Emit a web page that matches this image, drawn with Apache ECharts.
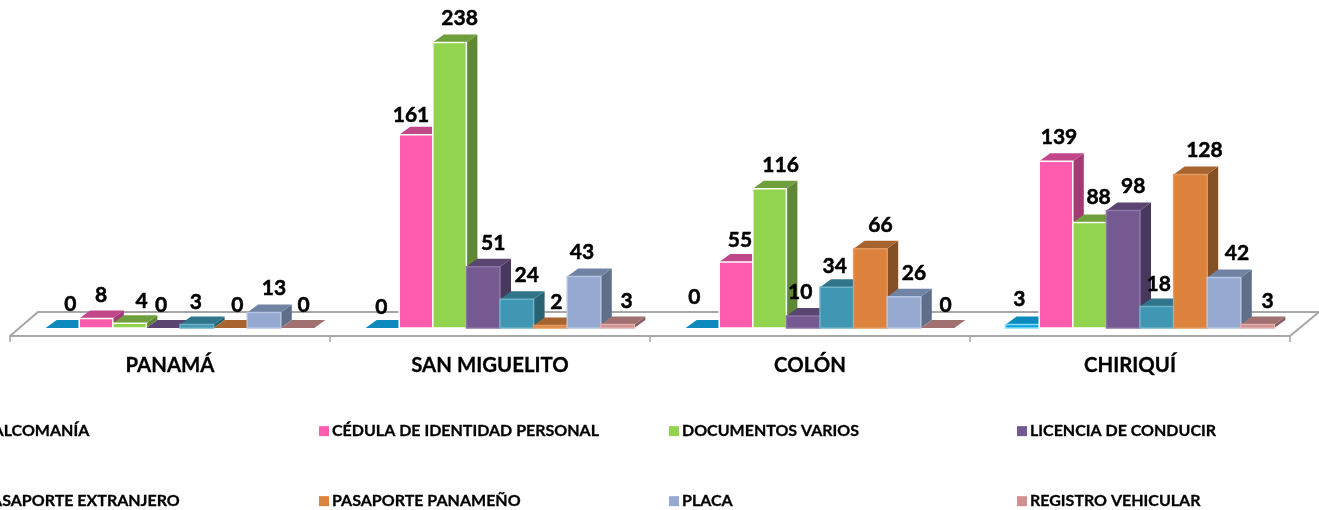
<!DOCTYPE html>
<html>
<head>
<meta charset="utf-8">
<title>Chart</title>
<script src="https://cdn.jsdelivr.net/npm/echarts@6/dist/echarts.min.js"></script>
<style>
    html, body { margin: 0; padding: 0; background: #fff; }
    #main { width: 1319px; height: 510px; }
</style>
</head>
<body>
<div id="main"></div>
<script>
var categories = ['PANAMÁ', 'SAN MIGUELITO', 'COLÓN', 'CHIRIQUÍ'];

var seriesNames = [
    'CALCOMANÍA',
    'CÉDULA DE IDENTIDAD PERSONAL',
    'DOCUMENTOS VARIOS',
    'LICENCIA DE CONDUCIR',
    'PASAPORTE EXTRANJERO',
    'PASAPORTE PANAMEÑO',
    'PLACA',
    'REGISTRO VEHICULAR'
];

var calcomania = [0, 0, 0, 3];
var cedula = [8, 161, 55, 139];
var documentos = [4, 238, 116, 88];
var licencia = [0, 51, 10, 98];
var pasaporteExt = [3, 24, 34, 18];
var pasaportePan = [0, 2, 66, 128];
var placa = [13, 43, 26, 42];
var registro = [0, 3, 0, 3];

var seriesValues = [calcomania, cedula, documentos, licencia, pasaporteExt, pasaportePan, placa, registro];

// colours: front, top, side
var fronts = ['#0F9FD6', '#FF5CAF', '#92D350', '#745A90', '#4097B3', '#DC823C', '#95A9D1', '#D09090'];
var tops = ['#0C8ABC', '#C2468A', '#6F9F3C', '#5A4570', '#30758A', '#A8642E', '#7083A3', '#A07070'];
var sides = ['#0A7AA6', '#A33A75', '#5F8834', '#49385D', '#296373', '#855026', '#5E6F8A', '#8A6060'];
var borders = ['#7FDDFF', '#FFFFFF', '#FFFFFF', '#8A76A6', '#6FB2C8', '#E29A62', '#B5C4E2', '#E0B0B0'];

// hand placed data labels in the original, [dx, dy] from the default spot, by series then category
var labelNudge = [
    [[-2, 0], [-11, 3], [-18, -7], [-13, -1]],
    [[-5, 1], [-15, 4], [-6, 2], [-7, 0]],
    [[2, 2], [0, 0], [1, 0], [-1, -1]],
    [[-12, 1], [0, 0], [-13, 0], [0, 0]],
    [[-11, 2], [0, 0], [-12, 3], [-8, 2]],
    [[-3, 1], [-4, 1], [0, 0], [4, 0]],
    [[0, 0], [-12, 0], [0, 0], [3, 0]],
    [[-4, 1], [-1, 1], [-2, 1], [0, 1]]
];

var DEPTH_X = 11, DEPTH_Y = 8, GROUP_SHIFT = 10, BAR_RATIO = 0.105;
var FONT_FAMILY = 'Lato, "Open Sans", sans-serif';

function renderBar(seriesIndex) {
    return function (params, api) {
        var cat = api.value(0),
            value = api.value(1),
            top = api.coord([cat, value]),
            base = api.coord([cat, 0]),
            band = api.size([1, 0])[0],
            w = band * BAR_RATIO,
            x = top[0] + GROUP_SHIFT + (seriesIndex - 4) * w,
            y = top[1],
            b = base[1],
            nudge = labelNudge[seriesIndex][cat],
            z = seriesIndex + 1;

        return {
            type: 'group',
            children: [
                {
                    type: 'polygon',
                    z2: z,
                    shape: { points: [[x + w, b], [x + w + DEPTH_X, b - DEPTH_Y], [x + w + DEPTH_X, y - DEPTH_Y], [x + w, y]] },
                    style: { fill: sides[seriesIndex] }
                },
                {
                    type: 'polygon',
                    z2: z,
                    shape: { points: [[x, y], [x + DEPTH_X, y - DEPTH_Y], [x + w + DEPTH_X, y - DEPTH_Y], [x + w, y]] },
                    style: { fill: tops[seriesIndex] }
                },
                {
                    type: 'rect',
                    z2: z,
                    shape: { x: x, y: y, width: w, height: b - y },
                    style: { fill: fronts[seriesIndex], stroke: value > 0 ? borders[seriesIndex] : 'none', lineWidth: 1.5 }
                },
                {
                    type: 'text',
                    z2: 100,
                    style: {
                        text: String(value),
                        x: x + w / 2 + 10 + nudge[0],
                        y: y - 24 + nudge[1],
                        align: 'center',
                        verticalAlign: 'middle',
                        font: 'bold 21px ' + FONT_FAMILY,
                        fill: '#000',
                        stroke: '#000',
                        lineWidth: 0.5
                    }
                }
            ]
        };
    };
}

// the grey floor the bars stand on, drawn once behind them
function renderFloor(params, api) {
    var first = api.coord([0, 0]),
        last = api.coord([categories.length - 1, 0]),
        band = api.size([1, 0])[0],
        left = first[0] - band / 2,
        right = last[0] + band / 2,
        front = first[1] + 8,
        back = first[1] - 16;

    return {
        type: 'polyline',
        z2: 0,
        shape: { points: [[left, front], [left + 28, back], [right + 29, back], [right, front]] },
        style: { fill: 'none', stroke: '#A6A6A6', lineWidth: 2 }
    };
}

var series = [{
    name: 'floor',
    type: 'custom',
    silent: true,
    renderItem: renderFloor,
    data: [[0, 0]],
    encode: { x: 0, y: 1 }
}];

var legends = [];
var legendLeft = [-31, 319, 669, 1017];
var legendTop = [423, 493];

seriesNames.forEach(function (name, i) {
    series.push({
        name: name,
        type: 'custom',
        silent: true,
        renderItem: renderBar(i),
        itemStyle: { color: fronts[i] },
        encode: { x: 0, y: 1 },
        data: seriesValues[i].map(function (v, c) { return [c, v]; })
    });
    legends.push({
        data: [name],
        left: legendLeft[i % 4],
        top: legendTop[i < 4 ? 0 : 1],
        padding: 0,
        icon: 'rect',
        itemWidth: 10,
        itemHeight: 10,
        itemGap: 0,
        selectedMode: false,
        textStyle: {
            color: '#000',
            fontWeight: 'bold',
            fontSize: 16,
            fontFamily: FONT_FAMILY,
            textBorderColor: '#000',
            textBorderWidth: 0.3,
            padding: [0, 0, 0, -2]
        }
    });
});

var myChart = echarts.init(document.getElementById('main'));
myChart.setOption({
    animation: false,
    backgroundColor: '#fff',
    legend: legends,
    grid: { left: 10, width: 1280, top: 28, height: 300 },
    xAxis: {
        type: 'category',
        data: categories,
        offset: 8,
        axisLine: { show: true, onZero: false, lineStyle: { color: '#A6A6A6', width: 2 } },
        axisTick: { show: true, alignWithLabel: false, length: 6, lineStyle: { color: '#A6A6A6', width: 1.5 } },
        axisLabel: {
            color: '#000',
            fontWeight: 'bold',
            fontSize: 20.4,
            fontFamily: FONT_FAMILY,
            textBorderColor: '#000',
            textBorderWidth: 0.3,
            margin: 19
        }
    },
    yAxis: { type: 'value', min: 0, max: 250, show: false },
    series: series
});
</script>
</body>
</html>
